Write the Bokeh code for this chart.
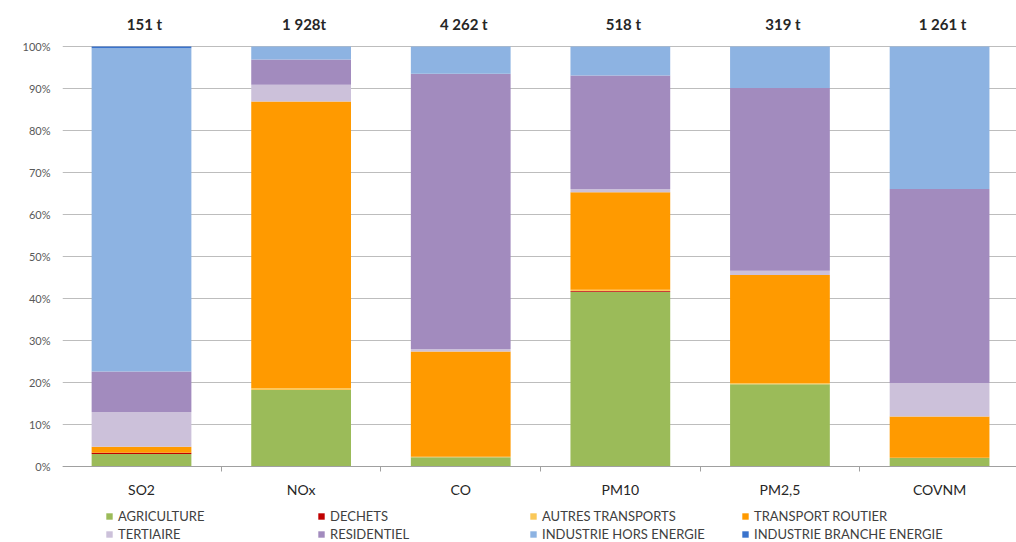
from bokeh.plotting import figure
from bokeh.models import ColumnDataSource, FixedTicker, Legend, LegendItem, Range1d
from bokeh.embed import file_html
from bokeh.resources import INLINE
from bokeh.core.properties import value

pollutants = ["SO2", "NOx", "CO", "PM10", "PM2,5", "COVNM"]
totals = ["151 t", "1 928t", "4 262 t", "518 t", "319 t", "1 261 t"]

sectors = ["AGRICULTURE", "DECHETS", "AUTRES TRANSPORTS", "TRANSPORT ROUTIER",
           "TERTIAIRE", "RESIDENTIEL", "INDUSTRIE HORS ENERGIE", "INDUSTRIE BRANCHE ENERGIE"]

agriculture = [3.0, 18.2, 2.2, 41.6, 19.6, 2.0]
dechets = [0.3, 0.0, 0.0, 0.2, 0.0, 0.0]
autres_transports = [0.0, 0.4, 0.1, 0.3, 0.2, 0.1]
transport_routier = [1.4, 68.3, 25.1, 23.2, 25.8, 9.8]
tertiaire = [8.3, 4.0, 0.6, 0.8, 1.0, 8.0]
residentiel = [9.6, 6.0, 65.5, 27.0, 43.5, 46.2]
industrie_hors_energie = [77.0, 3.1, 6.5, 6.9, 9.9, 33.9]
industrie_branche_energie = [0.4, 0.0, 0.0, 0.0, 0.0, 0.0]

colors = ["#9BBB59", "#C00000", "#FAC858", "#FF9A00",
          "#CCC1DA", "#A28BBE", "#8DB3E2", "#3A73CC"]

y_ticks = [0, 10, 20, 30, 40, 50, 60, 70, 80, 90, 100]

keys = ["agri", "dech", "autr", "trou", "tert", "resi", "ihe", "ibe"]
xs = list(range(len(pollutants)))
src = ColumnDataSource(dict(
    x=xs,
    agri=agriculture, dech=dechets, autr=autres_transports, trou=transport_routier,
    tert=tertiaire, resi=residentiel, ihe=industrie_hors_energie, ibe=industrie_branche_energie,
))

p = figure(width=1016, height=542, output_backend="svg", toolbar_location=None,
           x_range=Range1d(-0.495, 5.482), y_range=Range1d(-18.1, 108.1),
           min_border_left=62, min_border_right=0, min_border_top=12, min_border_bottom=0)
p.outline_line_color = None
p.background_fill_color = "white"

renderers = p.vbar_stack(keys, x="x", width=0.625, color=colors, line_color=None, source=src)

# y axis
p.yaxis.ticker = FixedTicker(ticks=y_ticks)
p.yaxis.major_label_overrides = {t: f"{t}%" for t in y_ticks}
p.yaxis.axis_line_color = None
p.yaxis.major_tick_line_color = None
p.yaxis.minor_tick_line_color = None
p.yaxis.major_tick_out = 0
p.yaxis.major_label_standoff = 12
p.yaxis.major_label_text_font = "Lato"
p.yaxis.major_label_text_font_size = "11px"
p.yaxis.major_label_text_color = "#595959"
p.ygrid.grid_line_color = "#BDBDBD"
p.xgrid.visible = False

# x axis, pinned at 0 %
p.xaxis.fixed_location = 0
p.xaxis.ticker = FixedTicker(ticks=xs, minor_ticks=[i - 0.5 for i in range(len(pollutants) + 1)])
p.xaxis.major_label_overrides = {i: n for i, n in enumerate(pollutants)}
p.xaxis.axis_line_color = "#A0A0A0"
p.xaxis.major_tick_line_color = None
p.xaxis.major_tick_out = 0
p.xaxis.major_tick_in = 0
p.xaxis.minor_tick_line_color = "#A0A0A0"
p.xaxis.minor_tick_out = 5
p.xaxis.minor_tick_in = 0
p.xaxis.major_label_standoff = 10
p.xaxis.major_label_text_font = "Lato"
p.xaxis.major_label_text_font_size = "14px"
p.xaxis.major_label_text_color = "#262626"

# totals above bars
lab_src = ColumnDataSource(dict(x=xs, y=[105.4] * len(xs), t=totals))
p.text(x="x", y="y", text="t", source=lab_src, text_align="center", text_baseline="middle",
       x_offset=3, text_font=value("Lato"), text_font_style="bold", text_font_size="15px",
       text_color="#262626")

legend = Legend(items=[LegendItem(label=s, renderers=[r]) for s, r in zip(sectors, renderers)],
                ncols=4, orientation="horizontal", location=(43, -1),
                glyph_width=8, glyph_height=8, label_standoff=5, label_width=199,
                label_height=18, spacing=0, padding=0, margin=0,
                border_line_color=None, background_fill_alpha=0,
                label_text_font="Lato", label_text_font_size="13px", label_text_color="#404040")
p.add_layout(legend, "center")

open("out.html", "w").write(file_html(p, INLINE))
